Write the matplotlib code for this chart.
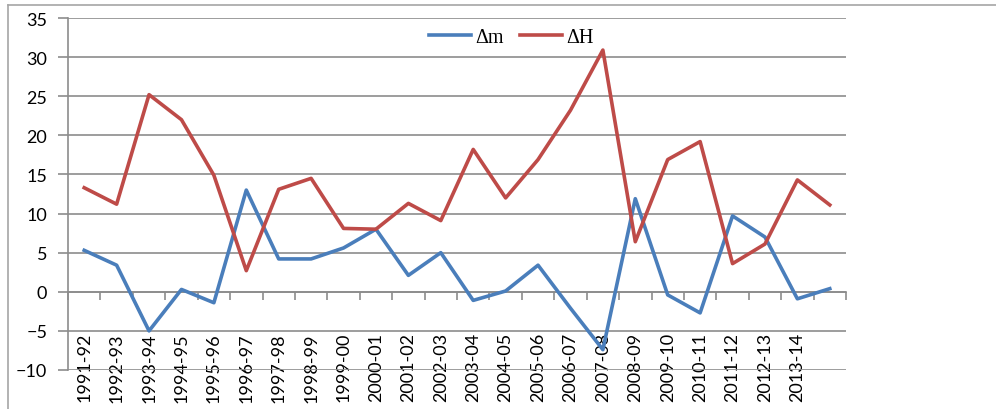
import numpy as np
import matplotlib.pyplot as plt
from matplotlib.lines import Line2D

# 数据
years = ['1991-92', '1992-93', '1993-94', '1994-95', '1995-96', '1996-97',
         '1997-98', '1998-99', '1999-00', '2000-01', '2001-02', '2002-03',
         '2003-04', '2004-05', '2005-06', '2006-07', '2007-08', '2008-09',
         '2009-10', '2010-11', '2011-12', '2012-13', '2013-14', '']
delta_m = [5.3, 3.4, -5.0, 0.3, -1.4, 13.0, 4.2, 4.2, 5.6, 8.0, 2.1, 5.0,
           -1.1, 0.1, 3.4, -2.1, -7.4, 11.9, -0.4, -2.7, 9.7, 7.0, -0.9, 0.4]
delta_H = [13.3, 11.2, 25.2, 22.0, 14.9, 2.7, 13.1, 14.5, 8.1, 8.0, 11.3, 9.1,
           18.2, 12.0, 16.9, 23.2, 30.9, 6.4, 16.9, 19.2, 3.6, 6.1, 14.3, 11.1]
y_ticks = [-10, -5, 0, 5, 10, 15, 20, 25, 30, 35]

grid_col = '#8c8c8c'

fig = plt.figure(figsize=(9.96, 4.10), dpi=100)
ax = fig.add_axes([68 / 996, 1 - 371 / 410, 778 / 996, 352 / 410])

x = np.arange(len(years)) + 0.5
ax.plot(x, delta_m, color='#4a7ebb', lw=2.6, label='Δm', zorder=3)
ax.plot(x, delta_H, color='#be4b48', lw=2.6, label='ΔH', zorder=3)

ax.set_xlim(0, len(years))
ax.set_ylim(-10, 35)
ax.set_yticks(y_ticks)
ax.yaxis.grid(True, color=grid_col, lw=1.2)
ax.set_axisbelow(True)

# x轴放在 y=0 处
for s in ['top', 'right']:
    ax.spines[s].set_visible(False)
ax.spines['bottom'].set_position(('data', 0))
ax.spines['bottom'].set_color(grid_col)
ax.spines['bottom'].set_linewidth(1.2)
ax.spines['left'].set_color(grid_col)
ax.spines['left'].set_linewidth(1.2)

ax.set_xticks(np.arange(len(years) + 1))
ax.set_xticklabels([])
ax.set_xticks(x, minor=True)
ax.set_xticklabels(years, minor=True, rotation=90, va='top', ha='center',
                   fontsize=13, family='Lato')
ax.tick_params(axis='x', which='major', direction='out', length=6,
               color=grid_col, width=1.2)
ax.tick_params(axis='x', which='minor', length=0, pad=29)
ax.tick_params(axis='y', direction='out', length=7, color=grid_col,
               width=1.2, pad=8, labelsize=13)
for lab in ax.get_yticklabels():
    lab.set_family('Lato')

leg = ax.legend(loc='center', bbox_to_anchor=(0.57, 0.946), ncol=2,
                frameon=False, prop={'family': 'Liberation Serif', 'size': 14.5},
                handlelength=2.1, handletextpad=0.2, columnspacing=0.8,
                borderaxespad=0)

# 外框
fig.add_artist(Line2D([8 / 996, 8 / 996], [0, 1 - 6 / 410], color='#a6a6a6', lw=1.2))
fig.add_artist(Line2D([8 / 996, 1], [1 - 6 / 410, 1 - 6 / 410], color='#a6a6a6', lw=1.2))

fig.savefig('out.png', dpi=100, facecolor='white')
